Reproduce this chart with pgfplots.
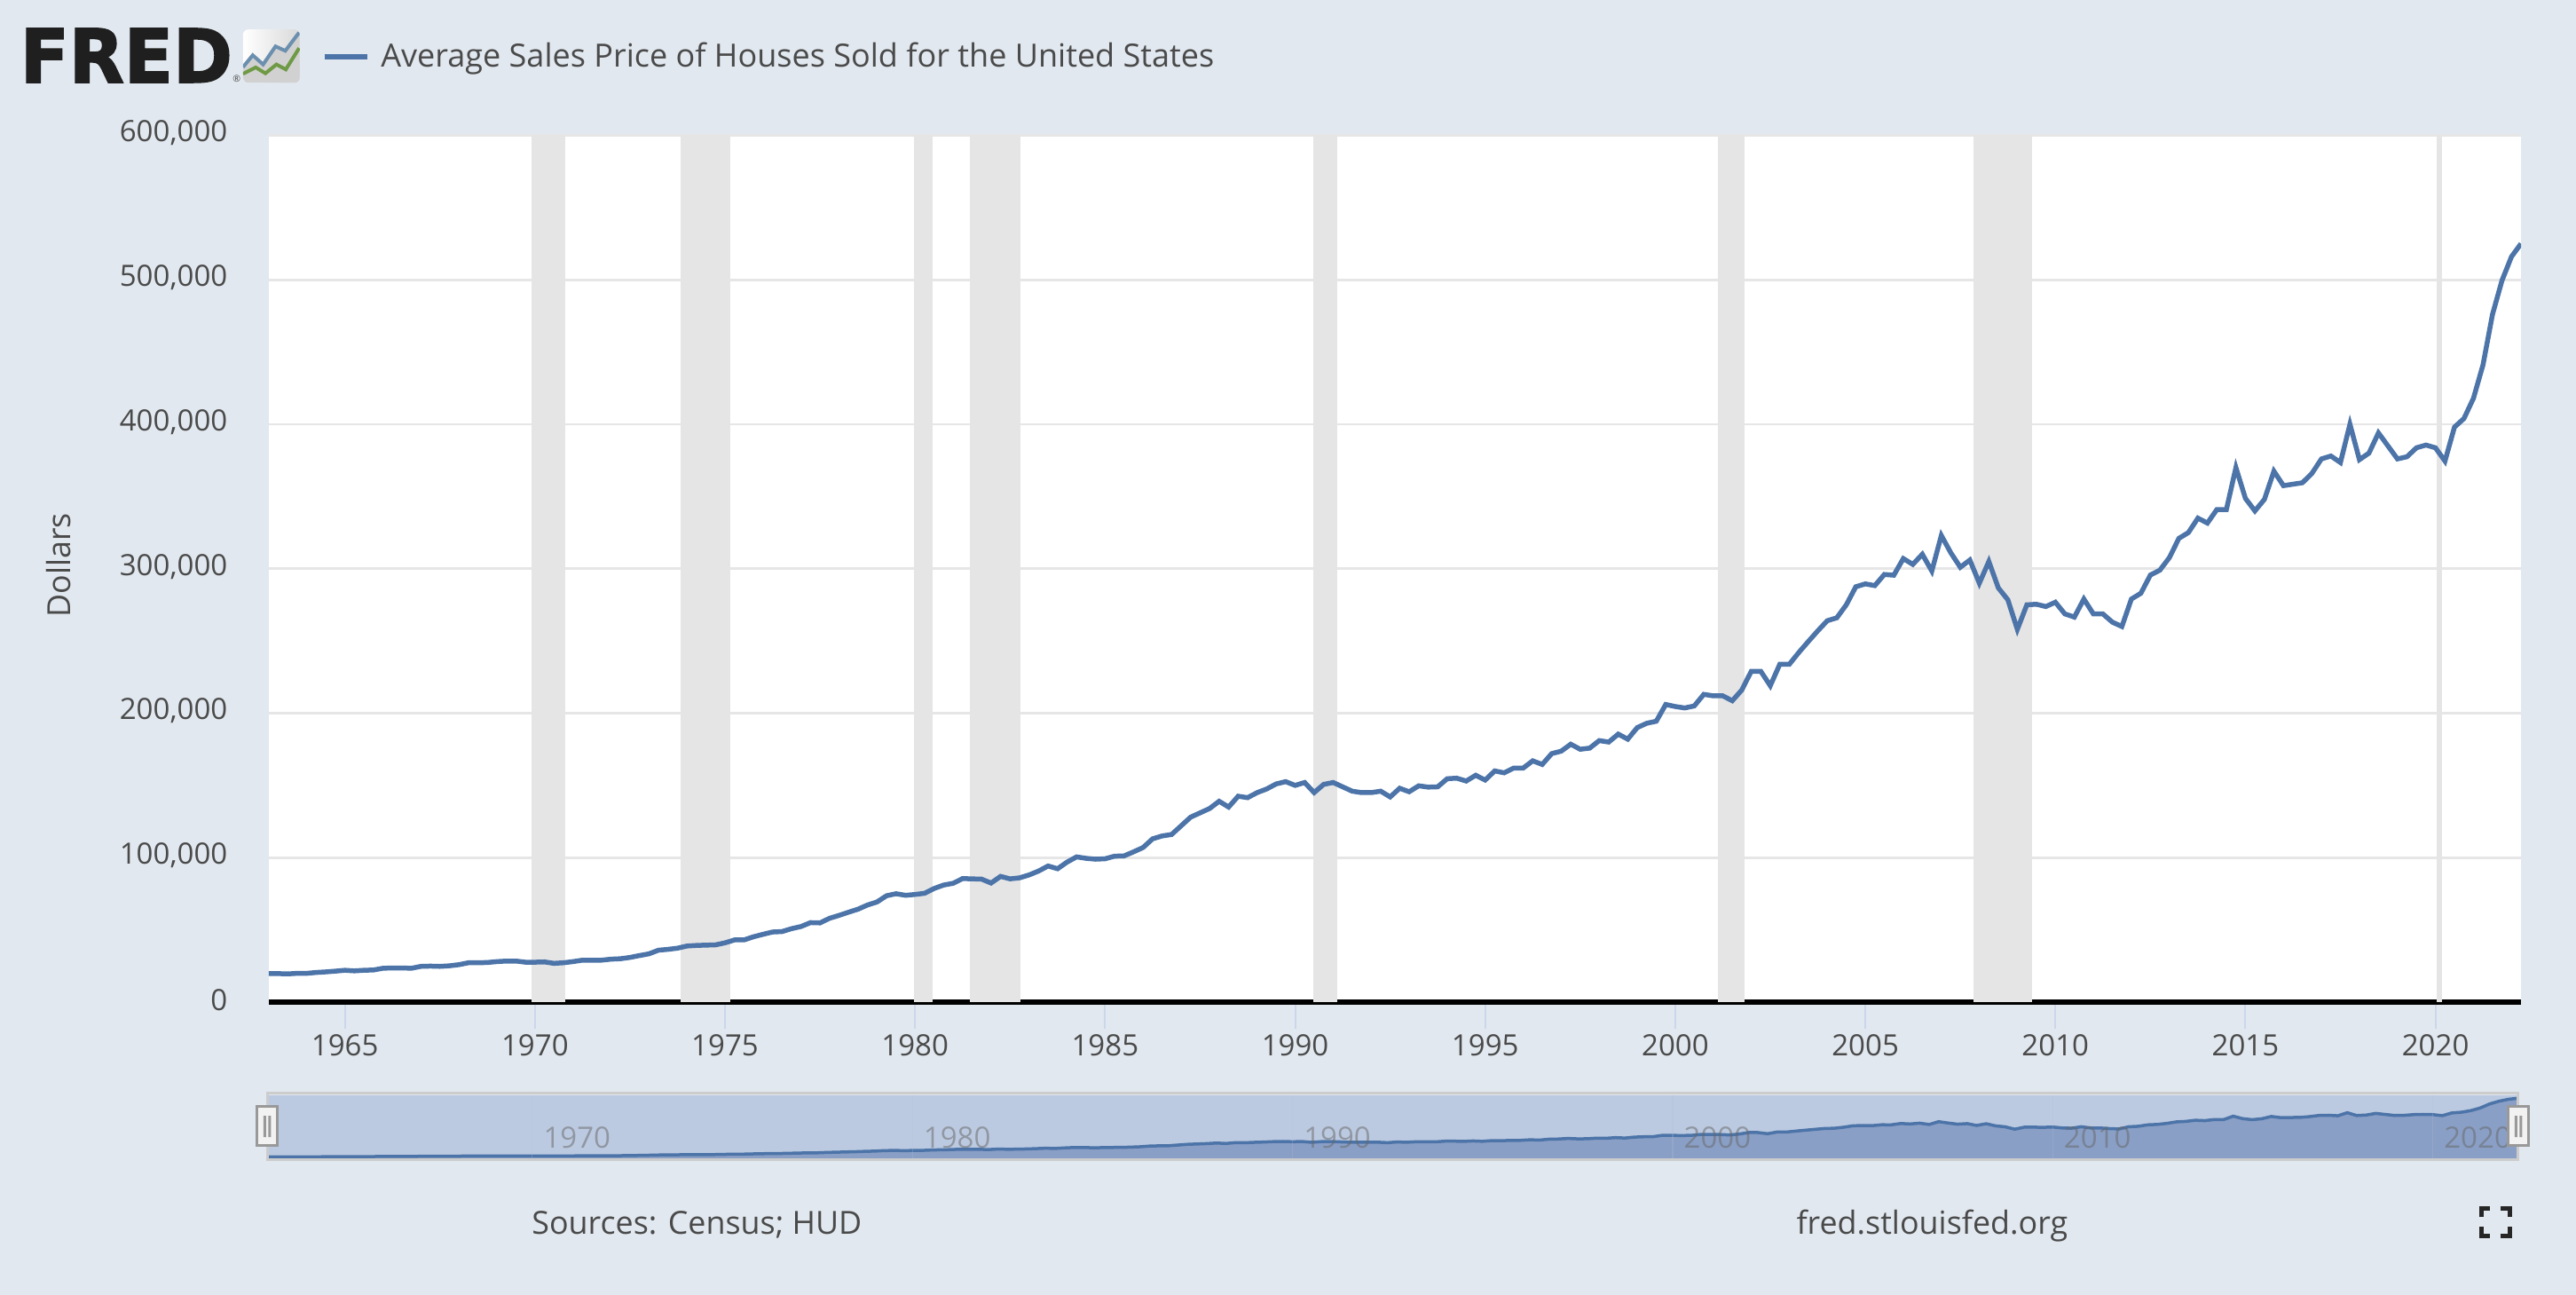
\documentclass[border=0pt]{standalone}
\usepackage{fontspec}
\setmainfont{Open Sans}
\newfontfamily\logofont[BoldFeatures={FakeBold=2}]{DejaVu Sans}
\usepackage{pgfplots}
\usepackage{pgfplotstable}
\pgfplotsset{compat=1.18}

\definecolor{fredbg}{HTML}{E1E8EF}
\definecolor{fredline}{HTML}{4C74A8}
\definecolor{recess}{HTML}{E5E5E5}
\definecolor{gridc}{HTML}{E6E6E6}
\definecolor{labelc}{HTML}{4A4A4A}
\definecolor{tickc}{HTML}{CCD6EB}
\definecolor{navmask}{HTML}{BCCAE1}
\definecolor{navarea}{HTML}{8A9FC6}
\definecolor{navgrid}{HTML}{B2C0D9}
\definecolor{navborder}{HTML}{CCCCCC}
\definecolor{iconblue}{HTML}{6B8FAE}
\definecolor{icongreen}{HTML}{6F9A45}

\newcommand{\lab}{\fontsize{9.4pt}{11pt}\selectfont}
\newcommand{\foot}{\fontsize{10.2pt}{12pt}\selectfont}

% quarterly
\pgfplotstableread{
year price
1963.00 19700
1963.25 19700
1963.50 19500
1963.75 19900
1964.00 19900
1964.25 20500
1964.50 20900
1964.75 21400
1965.00 22000
1965.25 21600
1965.50 22000
1965.75 22200
1966.00 23400
1966.25 23600
1966.50 23600
1966.75 23400
1967.00 24700
1967.25 24900
1967.50 24700
1967.75 25100
1968.00 25900
1968.25 27200
1968.50 27200
1968.75 27400
1969.00 28000
1969.25 28400
1969.50 28400
1969.75 27600
1970.00 27600
1970.25 27800
1970.50 26800
1970.75 27200
1971.00 28000
1971.25 29000
1971.50 29000
1971.75 29000
1972.00 29700
1972.25 30000
1972.50 30900
1972.75 32200
1973.00 33400
1973.25 35900
1973.50 36500
1973.75 37300
1974.00 38800
1974.25 39200
1974.50 39400
1974.75 39600
1975.00 41000
1975.25 43000
1975.50 43000
1975.75 45200
1976.00 46900
1976.25 48500
1976.50 48800
1976.75 50800
1977.00 52300
1977.25 55000
1977.50 54800
1977.75 58000
1978.00 60000
1978.25 62200
1978.50 64300
1978.75 67200
1979.00 69300
1979.25 73600
1979.50 75000
1979.75 73900
1980.00 74500
1980.25 75300
1980.50 78600
1980.75 81000
1981.00 82200
1981.25 85500
1981.50 85300
1981.75 85100
1982.00 82400
1982.25 87000
1982.50 85300
1982.75 86000
1983.00 88000
1983.25 90700
1983.50 94200
1983.75 92300
1984.00 96900
1984.25 100500
1984.50 99500
1984.75 98900
1985.00 99200
1985.25 101000
1985.50 101200
1985.75 104000
1986.00 107000
1986.25 113000
1986.50 115000
1986.75 116000
1987.00 122000
1987.25 128000
1987.50 131000
1987.75 134000
1988.00 139000
1988.25 135000
1988.50 142500
1988.75 141500
1989.00 145000
1989.25 147500
1989.50 151000
1989.75 152600
1990.00 150000
1990.25 152000
1990.50 145000
1990.75 150700
1991.00 152000
1991.25 149000
1991.50 146000
1991.75 145000
1992.00 145000
1992.25 146000
1992.50 142000
1992.75 148000
1993.00 145600
1993.25 149700
1993.50 148800
1993.75 149000
1994.00 154600
1994.25 155000
1994.50 153000
1994.75 157000
1995.00 153700
1995.25 160000
1995.50 158700
1995.75 162000
1996.00 162000
1996.25 167000
1996.50 164500
1996.75 172000
1997.00 173700
1997.25 178500
1997.50 175000
1997.75 175800
1998.00 181000
1998.25 180000
1998.50 185500
1998.75 182000
1999.00 190000
1999.25 193000
1999.50 194400
1999.75 206000
2000.00 204600
2000.25 203600
2000.50 205000
2000.75 213000
2001.00 212000
2001.25 212000
2001.50 208600
2001.75 216000
2002.00 229000
2002.25 229000
2002.50 219000
2002.75 233800
2003.00 233800
2003.25 242000
2003.50 249600
2003.75 257000
2004.00 264000
2004.25 266000
2004.50 275000
2004.75 287500
2005.00 289500
2005.25 288300
2005.50 296000
2005.75 295500
2006.00 307000
2006.25 303000
2006.50 310000
2006.75 298400
2007.00 323000
2007.25 311000
2007.50 301000
2007.75 306000
2008.00 290000
2008.25 305000
2008.50 286700
2008.75 278500
2009.00 258000
2009.25 275000
2009.50 275400
2009.75 273800
2010.00 276800
2010.25 268700
2010.50 266500
2010.75 279000
2011.00 268700
2011.25 268700
2011.50 263000
2011.75 260000
2012.00 279000
2012.25 283000
2012.50 295600
2012.75 299000
2013.00 307700
2013.25 321000
2013.50 325000
2013.75 335000
2014.00 331600
2014.25 341000
2014.50 341000
2014.75 370000
2015.00 348700
2015.25 340000
2015.50 348000
2015.75 367500
2016.00 357500
2016.25 358500
2016.50 359500
2016.75 366000
2017.00 376000
2017.25 378000
2017.50 373500
2017.75 400000
2018.00 375500
2018.25 380000
2018.50 394000
2018.75 385000
2019.00 376000
2019.25 377500
2019.50 383700
2019.75 385600
2020.00 383700
2020.25 374500
2020.50 398000
2020.75 404000
2021.00 418000
2021.25 441000
2021.50 476000
2021.75 499500
2022.00 516000
2022.25 525000
}\aspus

% recession bands as x-ranges
\newcommand{\band}[2]{\addplot[forget plot,fill=recess,draw=none] coordinates {(#1,0) (#1,600000) (#2,600000) (#2,0)} --cycle;}

\begin{document}
\begin{tikzpicture}
\path[fill=fredbg,use as bounding box] (0,0) rectangle (29.03,14.59);

% main chart
\begin{axis}[
    at={(3.03cm,3.30cm)}, anchor=south west,
    scale only axis,
    width=25.38cm, height=9.765cm,
    xmin=1963, xmax=2022.25,
    ymin=0, ymax=600000,
    axis background/.style={fill=white},
    axis x line*=bottom,
    axis y line*=left,
    x axis line style={black,line width=0.06cm},
    y axis line style={draw=none},
    xtick={1965,1970,...,2020},
    ytick={0,100000,200000,300000,400000,500000,600000},
    yticklabels={0,{100,000},{200,000},{300,000},{400,000},{500,000},{600,000}},
    xtick align=outside,
    major tick length=0.30cm,
    xtick style={tickc,line width=0.02cm},
    ytick style={draw=none},
    ymajorgrids,
    grid style={gridc,line width=0.028cm},
    scaled y ticks=false,
    tick label style={font=\lab,text=labelc},
    xticklabel style={inner sep=0pt,yshift=-0.06cm,/pgf/number format/1000 sep={},
        /pgf/number format/assume math mode=true},
    yticklabel style={inner sep=0pt,xshift=-0.46cm,yshift=0.025cm},
    ylabel={Dollars},
    ylabel style={at={(axis description cs:-0.0934,0.504)},anchor=center,font=\foot,text=labelc},
    legend style={at={(axis description cs:0.0232,1.0906)},anchor=west,draw=none,fill=none,inner sep=0pt,
        font=\fontsize{10.25pt}{12pt}\selectfont,text=labelc},
    legend cell align=left,
    legend image code/.code={\draw[fredline,line width=0.06cm] (0cm,0cm) -- (0.48cm,0cm);\path (0.54cm,0cm);},
]
\band{1969.90}{1970.80}
\band{1973.83}{1975.15}
\band{1979.98}{1980.47}
\band{1981.45}{1982.78}
\band{1990.48}{1991.11}
\band{2001.12}{2001.83}
\band{2007.84}{2009.38}
\band{2020.03}{2020.18}
\addplot[fredline,line width=0.055cm,mark=none] table[x=year,y=price] {\aspus};
\addlegendentry{Average Sales Price of Houses Sold for the United States}
\end{axis}

% navigator
\begin{axis}[
    at={(3.00cm,1.53cm)}, anchor=south west,
    scale only axis,
    width=25.38cm, height=0.72cm,
    xmin=1963, xmax=2022.25,
    ymin=0, ymax=550000,
    axis on top,
    axis background/.style={fill=navmask},
    axis line style={draw=none},
    axis y line=none,
    ytick=\empty,
    xtick={1970,1980,...,2020},
    major tick length=0pt,
    xmajorgrids,
    grid style={navgrid,line width=0.012cm,opacity=0.25},
    xticklabel style={anchor=south west,inner sep=0pt,xshift=0.12cm,yshift=0.11cm,font=\lab,
        text=black!60,text opacity=0.5,/pgf/number format/1000 sep={},
        /pgf/number format/assume math mode=true},
]
\addplot[fill=navarea,draw=none] table[x=year,y=price] {\aspus} \closedcycle;
\addplot[fredline,line width=0.035cm,mark=none] table[x=year,y=price] {\aspus};
\end{axis}

% page furniture, in pixels from the top left
\begin{scope}[shift={(0,14.59)},x=0.01cm,y=-0.01cm]
\draw[navborder,line width=0.03cm] (301.5,1232.5) rectangle (2839.5,1307.5);
% navigator handles
\foreach \hx in {289.5,2828}{
  \filldraw[draw=black!40,fill=black!5,line width=0.03cm] (\hx,1247.5) rectangle ++(23.5,44);
  \fill[black!40] (\hx+7.5,1258) rectangle ++(3,24) (\hx+13,1258) rectangle ++(3,24);
}
% logo
\node[anchor=base west,inner sep=0pt,text=black!88] at (22,93)
  {\scalebox{0.985}[1.02]{\logofont\fontsize{23.3pt}{24pt}\selectfont\bfseries FRED}};
\node[inner sep=0pt,text=black!70] at (267,89) {\fontsize{3pt}{3pt}\selectfont\textregistered};
\begin{scope}
\clip[rounded corners=0.06cm] (274,33.3) rectangle (338,93.3);
\shade[left color=white,right color=black!15] (274,33.3) rectangle (338,93.3);
\fill[black!18] (274,75.7) -- (285,62.3) -- (296.7,72.7) -- (310.7,52.3) -- (321.7,57.3) -- (337.3,36.7) -- (338,93.3) -- (274,93.3) -- cycle;
\draw[iconblue,line width=0.04cm] (274,75.7) -- (285,62.3) -- (296.7,72.7) -- (310.7,52.3) -- (321.7,57.3) -- (337.3,36.7);
\draw[icongreen,line width=0.04cm] (274,83.3) -- (288.3,76) -- (299.3,82.7) -- (311.7,72.7) -- (322.3,78.3) -- (337.3,54.3);
\end{scope}
% footer
\node[anchor=base west,inner sep=0pt,text=labelc] at (599,1391) {\foot Sources: Census; HUD};
\node[anchor=base west,inner sep=0pt,text=labelc] at (2025,1391) {\foot fred.stlouisfed.org};
% full screen mark
\begin{scope}[line width=0.05cm,black!85]
\draw (2798,1372) -- (2798,1362) -- (2808,1362);
\draw (2820,1362) -- (2830,1362) -- (2830,1372);
\draw (2798,1383) -- (2798,1393.5) -- (2808,1393.5);
\draw (2820,1393.5) -- (2830,1393.5) -- (2830,1383);
\end{scope}
\end{scope}
\end{tikzpicture}
\end{document}
